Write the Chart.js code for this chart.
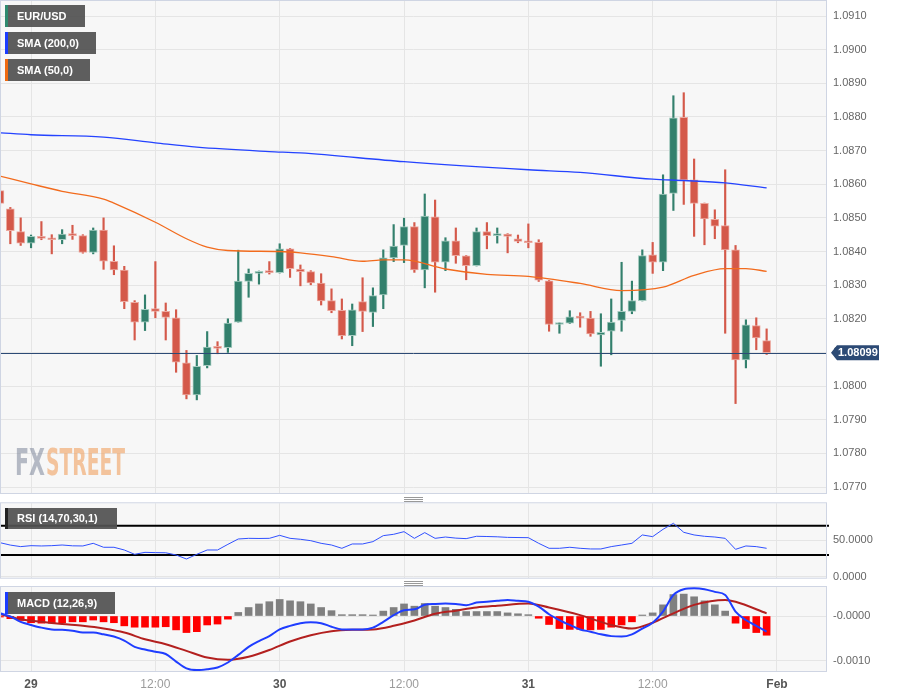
<!DOCTYPE html>
<html>
<head>
<meta charset="utf-8">
<script src="https://cdn.jsdelivr.net/npm/chart.js@4.4.1/dist/chart.umd.min.js"></script>
<style>
  body { margin: 0; background: #fff; width: 898px; height: 697px; overflow: hidden; position: relative;
         font-family: "Liberation Sans", Arial, sans-serif; }
  canvas { position: absolute; left: 0; }
  .tag { position: absolute; left: 5px; height: 22px; line-height: 22px; background: rgba(82,82,82,0.93);
         color: #fff; font-size: 11px; font-weight: bold; padding-left: 9px; box-sizing: border-box;
         border-left: 3px solid; white-space: nowrap; }
  .grip { position: absolute; left: 404px; width: 19px; height: 3px; border-top: 1px solid #999; border-bottom: 1px solid #999; }
  .grip::after { content: ''; position: absolute; left: 0; right: 0; top: 1px; border-top: 1px solid #999; }
</style>
</head>
<body>
<canvas id="main" width="898" height="494" style="top:0"></canvas>
<canvas id="rsi" width="898" height="100" style="top:490px"></canvas>
<canvas id="macd" width="898" height="117" style="top:580px"></canvas>

<div class="tag" style="top:5px;width:80px;border-color:#2f8a6f">EUR/USD</div>
<div class="tag" style="top:32px;width:91px;border-color:#1a3cff">SMA (200,0)</div>
<div class="tag" style="top:59px;width:85px;border-color:#f06a10">SMA (50,0)</div>
<div class="tag" style="top:508px;width:112px;height:21px;line-height:21px;border-color:#222">RSI (14,70,30,1)</div>
<div class="tag" style="top:592px;width:110px;border-color:#1a3cff">MACD (12,26,9)</div>
<div class="grip" style="top:497px"></div>
<div class="grip" style="top:581px"></div>

<script>
// hourly candles, 28 Jan 21:00 .. 31 Jan 23:00
const opens = [1.08581,1.08527,1.08459,1.08425,1.08445,1.08438,1.08435,1.08453,1.08447,1.08397,
  1.08464,1.08371,1.08345,1.08249,1.08190,1.08230,1.08222,1.08203,1.08069,1.07974,
  1.08061,1.08118,1.08114,1.08190,1.08311,1.08335,1.08343,1.08337,1.08408,1.08348,
  1.08340,1.08306,1.08254,1.08225,1.08150,1.08251,1.08219,1.08271,1.08381,1.08418,
  1.08474,1.08345,1.08503,1.08368,1.08432,1.08387,1.08358,1.08459,1.08447,1.08452,
  1.08438,1.08430,1.08427,1.08313,1.08183,1.08187,1.08206,1.08202,1.08152,1.08163,
  1.08195,1.08222,1.08254,1.08390,1.08368,1.08573,1.08799,1.08613,1.08543,1.08496,
  1.08477,1.08405,1.08078,1.08180,1.08135];
const highs = [1.08605,1.08531,1.08500,1.08449,1.08489,1.08450,1.08465,1.08478,1.08450,1.08470,
  1.08500,1.08417,1.08356,1.08254,1.08271,1.08370,1.08247,1.08227,1.08106,1.08091,
  1.08162,1.08132,1.08200,1.08404,1.08348,1.08342,1.08370,1.08423,1.08409,1.08360,
  1.08343,1.08334,1.08289,1.08259,1.08244,1.08322,1.08292,1.08405,1.08480,1.08499,
  1.08486,1.08571,1.08553,1.08441,1.08470,1.08388,1.08470,1.08486,1.08470,1.08453,
  1.08449,1.08482,1.08435,1.08314,1.08188,1.08224,1.08218,1.08222,1.08215,1.08259,
  1.08368,1.08312,1.08405,1.08427,1.08628,1.08863,1.08872,1.08675,1.08544,1.08524,
  1.08643,1.08418,1.08197,1.08203,1.08170];
const lows = [1.08534,1.08423,1.08418,1.08411,1.08435,1.08393,1.08423,1.08436,1.08395,1.08393,
  1.08347,1.08331,1.08230,1.08137,1.08165,1.08203,1.08137,1.08041,1.07962,1.07959,
  1.08054,1.08096,1.08100,1.08190,1.08264,1.08303,1.08333,1.08336,1.08323,1.08298,
  1.08301,1.08241,1.08218,1.08140,1.08120,1.08162,1.08177,1.08230,1.08370,1.08367,
  1.08338,1.08292,1.08279,1.08343,1.08365,1.08316,1.08357,1.08408,1.08425,1.08396,
  1.08426,1.08411,1.08311,1.08163,1.08157,1.08186,1.08175,1.08148,1.08059,1.08093,
  1.08163,1.08215,1.08253,1.08335,1.08343,1.08522,1.08540,1.08445,1.08420,1.08438,
  1.08157,1.07948,1.08054,1.08108,1.08094];
const closes = [1.08543,1.08462,1.08425,1.08445,1.08439,1.08435,1.08452,1.08447,1.08397,1.08464,
  1.08371,1.08345,1.08251,1.08190,1.08228,1.08222,1.08204,1.08071,1.07974,1.08059,
  1.08116,1.08112,1.08187,1.08312,1.08335,1.08338,1.08337,1.08408,1.08349,1.08340,
  1.08307,1.08253,1.08224,1.08150,1.08227,1.08222,1.08269,1.08381,1.08416,1.08474,
  1.08345,1.08505,1.08368,1.08432,1.08388,1.08358,1.08459,1.08447,1.08452,1.08445,
  1.08430,1.08426,1.08315,1.08183,1.08187,1.08206,1.08202,1.08155,1.08160,1.08190,
  1.08222,1.08254,1.08388,1.08368,1.08571,1.08797,1.08613,1.08543,1.08497,1.08475,
  1.08405,1.08078,1.08182,1.08143,1.08099];

// moving averages, read at these candle indices
const sma200Idx = [0,3,10,15,19,26,29,39,51,56,63,66,70,74];
const sma200Val = [1.08753,1.08747,1.08740,1.08723,1.08710,1.08697,1.08693,1.08667,1.08643,1.08635,1.08615,1.08611,1.08604,1.08589];
const sma50Idx = [0,3,6,10,11,15,18,20,22,27,29,32,35,37,39,43,47,51,56,60,64,67,70,72,74];
const sma50Val = [1.08624,1.08601,1.08579,1.08556,1.08544,1.08487,1.08438,1.08413,1.08403,1.08400,1.08396,1.08385,
  1.08371,1.08375,1.08375,1.08348,1.08332,1.08326,1.08305,1.08284,1.08294,1.08329,1.08349,1.08349,1.08341];

const rsiValues = [46.8,43.5,41.4,42.7,42.3,42.7,43.6,42.5,42.3,45.9,
  40.5,40.5,36.8,30.9,33.6,33.2,33.0,30.0,24.5,30.9,
  36.8,36.8,44.5,51.8,52.7,52.5,52.7,56.8,52.7,51.4,
  49.5,45.9,43.6,39.1,45.0,45.0,48.2,56.4,58.2,61.8,
  52.7,60.5,52.7,54.5,53.0,52.3,55.5,55.2,54.8,54.0,
  53.8,53.6,45.9,39.1,39.1,40.5,39.1,38.2,38.2,41.4,
  43.6,45.9,57.3,55.0,65.0,73.2,60.9,57.3,55.5,54.5,
  52.7,37.7,42.3,41.4,39.1];
const rsiLevels = [70, 30];
const rsiTicks = [0, 50];
const rsiTickLabels = ['0.0000', '50.0000'];

const macdLine = [0.00006,-0.00001,-0.00013,-0.00020,-0.00026,-0.00030,-0.00031,-0.00033,-0.00037,-0.00037,
  -0.00041,-0.00046,-0.00055,-0.00069,-0.00075,-0.00080,-0.00085,-0.00102,-0.00117,-0.00121,
  -0.00119,-0.00115,-0.00104,-0.00087,-0.00069,-0.00056,-0.00045,-0.00030,-0.00022,-0.00016,
  -0.00014,-0.00016,-0.00024,-0.00030,-0.00030,-0.00030,-0.00026,-0.00013,0.00002,0.00013,
  0.00015,0.00025,0.00027,0.00028,0.00027,0.00024,0.00030,0.00032,0.00034,0.00036,
  0.00034,0.00032,0.00021,0.00004,-0.00009,-0.00020,-0.00030,-0.00035,-0.00041,-0.00045,
  -0.00046,-0.00041,-0.00028,-0.00015,0.00010,0.00047,0.00060,0.00062,0.00060,0.00054,
  0.00047,0.00010,-0.00009,-0.00022,-0.00035];
const signalIdx = [0,2,4,6,8,10,12,14,16,18,20,22,24,26,28,30,32,34,36,38,40,42,44,46,48,51,53,56,59,61,63,65,67,70,71,74];
const signalVal = [0.00004,-0.00007,-0.00013,-0.00018,-0.00022,-0.00028,-0.00037,-0.00052,-0.00063,-0.00078,
  -0.00093,-0.00098,-0.00091,-0.00076,-0.00057,-0.00043,-0.00034,-0.00031,-0.00030,-0.00022,
  -0.00010,0.00005,0.00012,0.00019,0.00023,0.00028,0.00019,0.00002,-0.00020,-0.00028,
  -0.00015,0.00006,0.00025,0.00036,0.00032,0.00006];
const histValues = [-0.00002,-0.00006,-0.00010,-0.00015,-0.00016,-0.00016,-0.00015,-0.00013,-0.00013,-0.00009,
  -0.00013,-0.00015,-0.00022,-0.00025,-0.00025,-0.00025,-0.00024,-0.00031,-0.00037,-0.00035,
  -0.00020,-0.00018,-0.00007,0.00008,0.00019,0.00027,0.00032,0.00037,0.00034,0.00032,
  0.00027,0.00019,0.00012,0.00003,0.00003,0.00003,0.00002,0.00011,0.00019,0.00027,
  0.00022,0.00028,0.00022,0.00019,0.00015,0.00010,0.00010,0.00010,0.00010,0.00007,
  0.00005,0.00003,-0.00005,-0.00019,-0.00028,-0.00030,-0.00030,-0.00031,-0.00030,-0.00025,
  -0.00020,-0.00013,0.00001,0.00007,0.00025,0.00048,0.00049,0.00043,0.00034,0.00025,
  0.00011,-0.00016,-0.00028,-0.00037,-0.00043];
const macdTicks = [-0.001, 0];
const macdTickLabels = ['-0.0010', '-0.0000'];

const priceTicks = [1.077,1.078,1.079,1.080,1.081,1.082,1.083,1.084,1.085,1.086,1.087,1.088,1.089,1.090,1.091];
const timeTickPos = [3, 15, 27, 39, 51, 63, 75];
const timeTickLabels = ['29', '12:00', '30', '12:00', '31', '12:00', 'Feb'];

const candleIdx = opens.map((_, i) => i);
const isUp = i => closes[i] >= opens[i];
const lastClose = closes[closes.length - 1];

Chart.defaults.font.family = '"Liberation Sans", Arial, sans-serif';
Chart.defaults.animation = false;
Chart.defaults.plugins.legend.display = false;
Chart.defaults.plugins.tooltip.enabled = false;

const GRID = '#e5e5e5';

// is the tick in this context an intraday one (12:00)?
function isHourTick(c) {
  if (!c || !c.tick) return false;
  const k = timeTickPos.indexOf(c.tick.value);
  return k >= 0 && timeTickLabels[k].includes(':');
}

function timeAxis(showLabels) {
  return {
    type: 'linear', min: 0.1, max: 79.73, offset: false,
    afterBuildTicks: s => { s.ticks = timeTickPos.map(v => ({ value: v })); },
    grid: { color: GRID, drawTicks: false, offset: false },
    border: { display: false },
    ticks: {
      display: showLabels, autoSkip: false, maxRotation: 0, padding: 6,
      callback: v => { const k = timeTickPos.indexOf(v); return k >= 0 ? timeTickLabels[k] : ''; },
      color: c => isHourTick(c) ? '#9b9b9b' : '#555',
      font: c => ({ size: 12, weight: isHourTick(c) ? 'normal' : 'bold' })
    },
    afterFit: s => { s.height = showLabels ? 26 : 0; s.paddingLeft = 0; s.paddingRight = 0; }
  };
}

function valueAxis(min, max, ticks, fmt) {
  return {
    position: 'right', min: min, max: max,
    afterBuildTicks: s => { s.ticks = ticks.map(v => ({ value: v })); },
    grid: { color: GRID, drawTicks: false },
    border: { display: false },
    ticks: { padding: 7, color: '#666', font: { size: 11 }, callback: fmt },
    afterFit: s => { s.width = 72; s.paddingTop = 0; s.paddingBottom = 0; }
  };
}

const panel = {
  id: 'panel',
  beforeDraw(chart) {
    const a = chart.chartArea, ctx = chart.ctx;
    ctx.save();
    ctx.fillStyle = '#f7f7f7';
    ctx.fillRect(a.left, a.top, a.right - a.left, a.bottom - a.top);
    ctx.restore();
  },
  afterDraw(chart) {
    const a = chart.chartArea, ctx = chart.ctx;
    ctx.save();
    ctx.strokeStyle = '#cfd5e3';
    ctx.lineWidth = 1;
    ctx.strokeRect(a.left - 0.5, a.top - 0.5, a.right - a.left + 1, a.bottom - a.top + 1);
    ctx.restore();
  }
};

const watermark = {
  id: 'watermark',
  beforeDatasetsDraw(chart) {
    const ctx = chart.ctx;
    ctx.save();
    ctx.font = 'bold 37px "Liberation Sans Narrow", "DejaVu Sans Condensed", sans-serif';
    ctx.textBaseline = 'alphabetic';
    ctx.fillStyle = 'rgba(125,135,155,0.55)';
    ctx.fillText('FX', 15, 475, 30);
    ctx.fillStyle = 'rgba(240,160,95,0.6)';
    ctx.fillText('STREET', 46, 475, 79);
    ctx.restore();
  }
};

const priceTag = {
  id: 'priceTag',
  afterDatasetsDraw(chart) {
    const a = chart.chartArea, ctx = chart.ctx;
    const y = Math.round(chart.scales.y.getPixelForValue(lastClose)) + 0.5;
    ctx.save();
    ctx.strokeStyle = '#2c4a75';
    ctx.lineWidth = 1;
    ctx.beginPath(); ctx.moveTo(a.left, y); ctx.lineTo(a.right, y); ctx.stroke();
    ctx.restore();
  },
  afterDraw(chart) {
    const ctx = chart.ctx;
    const y = chart.scales.y.getPixelForValue(lastClose);
    ctx.save();
    ctx.fillStyle = '#2c4a75';
    ctx.beginPath();
    ctx.moveTo(831, y);
    ctx.lineTo(837, y - 7.5);
    ctx.lineTo(879, y - 7.5);
    ctx.lineTo(879, y + 7.5);
    ctx.lineTo(837, y + 7.5);
    ctx.closePath();
    ctx.fill();
    ctx.fillStyle = '#fff';
    ctx.font = 'bold 11px "Liberation Sans", Arial, sans-serif';
    ctx.textBaseline = 'middle';
    ctx.fillText(lastClose.toFixed(5), 838, y + 0.5);
    ctx.restore();
  }
};

const levels = {
  id: 'levels',
  beforeDatasetsDraw(chart) {
    const a = chart.chartArea, ctx = chart.ctx;
    ctx.save();
    ctx.strokeStyle = '#000';
    ctx.lineWidth = 2;
    rsiLevels.forEach(v => {
      const y = chart.scales.y.getPixelForValue(v);
      ctx.beginPath(); ctx.moveTo(a.left, y); ctx.lineTo(a.right + 3, y); ctx.stroke();
    });
    ctx.restore();
  }
};

new Chart(document.getElementById('main'), {
  type: 'line',
  data: {
    datasets: [
      {
        label: 'SMA (200,0)', order: 0,
        data: sma200Idx.map((x, k) => ({ x: x, y: sma200Val[k] })),
        borderColor: '#2443ff', borderWidth: 1.3, pointRadius: 0, cubicInterpolationMode: 'monotone'
      },
      {
        label: 'SMA (50,0)', order: 0,
        data: sma50Idx.map((x, k) => ({ x: x, y: sma50Val[k] })),
        borderColor: '#f26b1d', borderWidth: 1.3, pointRadius: 0, cubicInterpolationMode: 'monotone'
      },
      {
        type: 'bar', label: 'body', order: 1, grouped: false,
        data: candleIdx.map(i => ({ x: i, y: [opens[i], closes[i]] })),
        backgroundColor: c => isUp(c.dataIndex) ? '#33806d' : '#d4594a',
        borderColor: c => isUp(c.dataIndex) ? '#a6ccc1' : '#eca99f',
        borderWidth: 1, borderSkipped: false, barThickness: 8, minBarLength: 2
      },
      {
        type: 'bar', label: 'wick', order: 2, grouped: false,
        data: candleIdx.map(i => ({ x: i, y: [lows[i], highs[i]] })),
        backgroundColor: c => isUp(c.dataIndex) ? '#33806d' : '#d4594a',
        borderWidth: 0, barThickness: 1.5
      }
    ]
  },
  options: {
    responsive: false,
    layout: { padding: { top: 1, left: 1, right: 0, bottom: 1 } },
    scales: {
      x: timeAxis(false),
      y: valueAxis(1.076822, 1.091446, priceTicks, v => v.toFixed(4))
    }
  },
  plugins: [panel, watermark, priceTag]
});

new Chart(document.getElementById('rsi'), {
  type: 'line',
  data: {
    datasets: [{
      label: 'RSI', data: candleIdx.map(i => ({ x: i, y: rsiValues[i] })),
      borderColor: '#3050ff', borderWidth: 1, pointRadius: 0, tension: 0
    }]
  },
  options: {
    responsive: false,
    layout: { padding: { top: 13.3, left: 1, right: 0, bottom: 12.3 } },
    scales: {
      x: timeAxis(false),
      y: valueAxis(-1, 100.5, rsiTicks, v => rsiTickLabels[rsiTicks.indexOf(v)])
    }
  },
  plugins: [panel, levels]
});

new Chart(document.getElementById('macd'), {
  type: 'line',
  data: {
    datasets: [
      {
        label: 'MACD', order: 0,
        data: candleIdx.map(i => ({ x: i, y: macdLine[i] })),
        borderColor: '#1f3dff', borderWidth: 2, pointRadius: 0, cubicInterpolationMode: 'monotone'
      },
      {
        label: 'Signal', order: 0,
        data: signalIdx.map((x, k) => ({ x: x, y: signalVal[k] })),
        borderColor: '#b3201f', borderWidth: 2, pointRadius: 0, cubicInterpolationMode: 'monotone'
      },
      {
        type: 'bar', label: 'Histogram', order: 1, grouped: false,
        data: candleIdx.map(i => ({ x: i, y: histValues[i] })),
        backgroundColor: c => histValues[c.dataIndex] < 0 ? '#ff0000' : '#808080',
        borderWidth: 0, barThickness: 7, minBarLength: 1
      }
    ]
  },
  options: {
    responsive: false,
    layout: { padding: { top: 7, left: 1, right: 0, bottom: 0 } },
    scales: {
      x: timeAxis(true),
      y: valueAxis(-0.00123, 0.000649, macdTicks, v => macdTickLabels[macdTicks.indexOf(v)])
    }
  },
  plugins: [panel]
});
</script>
</body>
</html>
